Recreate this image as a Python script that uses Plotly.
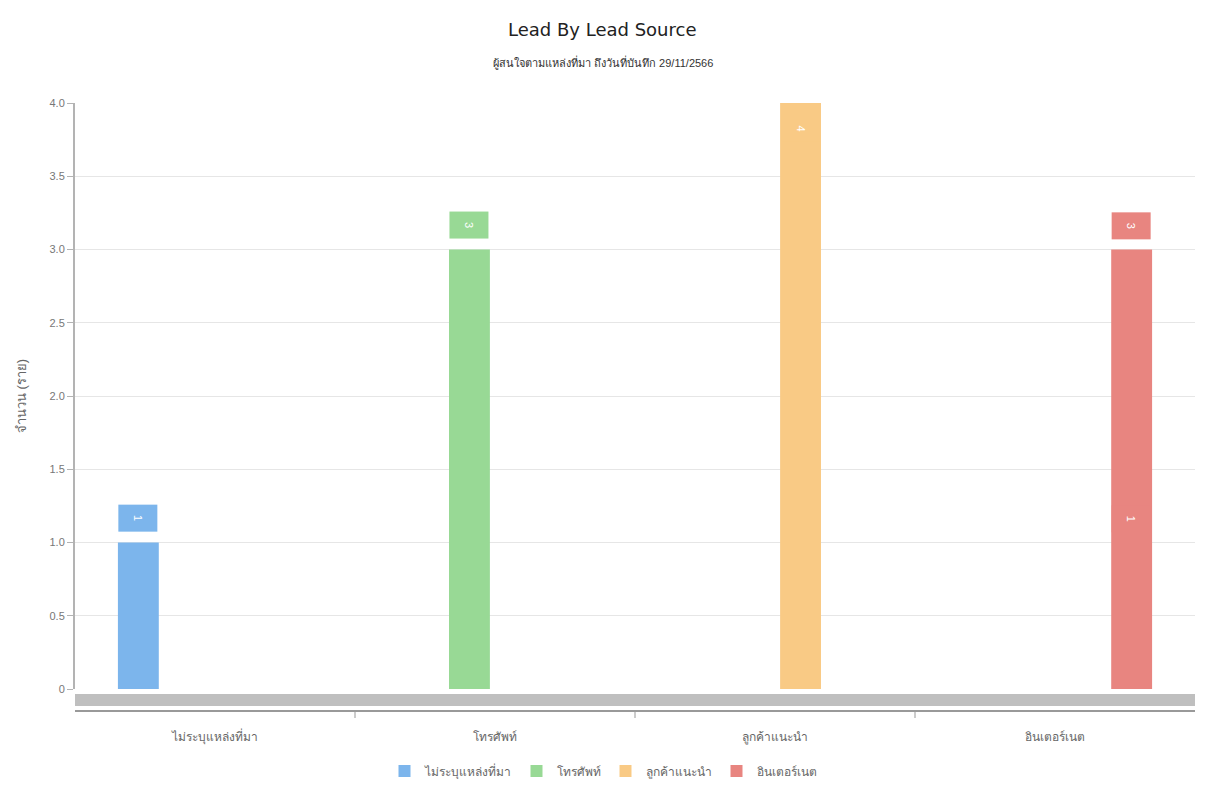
import plotly.graph_objects as go

# data
categories = ["ไม่ระบุแหล่งที่มา", "โทรศัพท์", "ลูกค้าแนะนำ", "อินเตอร์เนต"]
series_names = ["ไม่ระบุแหล่งที่มา", "โทรศัพท์", "ลูกค้าแนะนำ", "อินเตอร์เนต"]
series_values = [1, 3, 4, 3]
colors = ["#7cb5ec", "#98d995", "#f9ca85", "#e88580"]
# stray label drawn inside the red bar: (series index, value)
extra_labels = [(3, 1)]
y_tickvals = [0, 0.5, 1.0, 1.5, 2.0, 2.5, 3.0, 3.5, 4.0]
y_ticktext = ["0", "0.5", "1.0", "1.5", "2.0", "2.5", "3.0", "3.5", "4.0"]

# page body has an 8px margin, so work in page pixels and shift
OX, OY = 8, 8
W, H = 1223 - OX, 787 - 2 * OY
L, T = 75 - OX, 103 - OY
R = W - (1195 - OX)
B = H - (711 - OY)
plot_w = W - L - R
plot_h = H - T - B
y_bottom = (711 - 689) / plot_h      # y axis starts above the scrollbar

def px_x(x):
    return (x - 75) / plot_w

def px_y(y):
    return (711 - y) / plot_h

FONT = "Tahoma, 'Liberation Sans', 'Noto Sans', 'DejaVu Sans', sans-serif"
bargap = 0.27
slot = (1 - bargap) / len(series_names)
y_max = 4.0

fig = go.Figure()
for i, name in enumerate(series_names):
    fig.add_trace(go.Bar(
        x=[categories[i]], y=[series_values[i]], name=name,
        marker=dict(color=colors[i], line=dict(width=0)),
        alignmentgroup="all", offsetgroup=str(i),
        hoverinfo="x+y",
    ))

def label(si, ci, val):
    inside = val + 0.2 > y_max
    fig.add_annotation(
        x=ci + (si - 1.5) * slot, y=val, xref="x", yref="y",
        text=str(val), showarrow=False, textangle=90,
        font=dict(color="white", size=11, family=FONT),
        bgcolor=colors[si], width=24, height=36, borderpad=1,
        xanchor="center", yanchor="middle",
        yshift=-25 if inside else 24,
    )

for i, v in enumerate(series_values):
    label(i, i, v)
for si, v in extra_labels:
    label(si, si, v)

# title / subtitle
fig.add_annotation(text="Lead By Lead Source", xref="paper", yref="paper",
                   x=px_x(602), y=px_y(30),
                   showarrow=False, font=dict(size=18, color="#222222", family="DejaVu Sans"),
                   xanchor="center", yanchor="middle")
fig.add_annotation(text="ผู้สนใจตามแหล่งที่มา ถึงวันที่บันทึก 29/11/2566", xref="paper", yref="paper",
                   x=px_x(603), y=px_y(62),
                   showarrow=False, font=dict(size=11, color="#333333", family=FONT),
                   xanchor="center", yanchor="middle")

# scrollbar-like band and right border
fig.add_shape(type="rect", xref="paper", yref="paper", x0=0, x1=1,
              y0=px_y(706), y1=px_y(694),
              fillcolor="#bfbfbf", line=dict(width=0), layer="above")
fig.add_shape(type="line", xref="paper", yref="paper",
              x0=px_x(1219), x1=px_x(1219),
              y0=px_y(785), y1=px_y(0),
              line=dict(color="#a0a0a0", width=3))

# x ticks only between categories
for k in range(len(categories) - 1):
    fig.add_shape(type="line", xref="x", yref="paper",
                  x0=k + 0.5, x1=k + 0.5, y0=0, y1=px_y(718),
                  line=dict(color="#999999", width=1))

fig.update_layout(
    width=W, height=H,
    margin=dict(l=L, r=R, t=T, b=B, autoexpand=False),
    paper_bgcolor="white", plot_bgcolor="white",
    barmode="group", bargap=bargap, bargroupgap=0.2,
    font=dict(family=FONT, color="#666666", size=11),
    legend=dict(orientation="h", x=px_x(603), xanchor="center",
                y=px_y(771), yanchor="middle",
                font=dict(size=12, color="#666666"), itemclick=False),
    xaxis=dict(
        type="category", categoryorder="array", categoryarray=categories,
        anchor="free", position=0, range=[-0.5, 3.5],
        showgrid=False, zeroline=False,
        showline=True, linecolor="#999999", linewidth=2,
        ticks="",
        tickfont=dict(size=12, color="#666666"), ticklabelstandoff=15,
    ),
    yaxis=dict(
        domain=[y_bottom, 1], range=[0, y_max],
        tickvals=y_tickvals, ticktext=y_ticktext,
        showgrid=True, gridcolor="#e6e6e6", gridwidth=1, zeroline=False,
        showline=True, linecolor="#b3b3b3", linewidth=2,
        ticks="outside", ticklen=6, tickcolor="#b3b3b3",
        tickfont=dict(size=11, color="#777777"),
        title=dict(text="จำนวน (ราย)", font=dict(size=13, color="#666666"), standoff=20),
    ),
)

fig.write_html("out.html")
